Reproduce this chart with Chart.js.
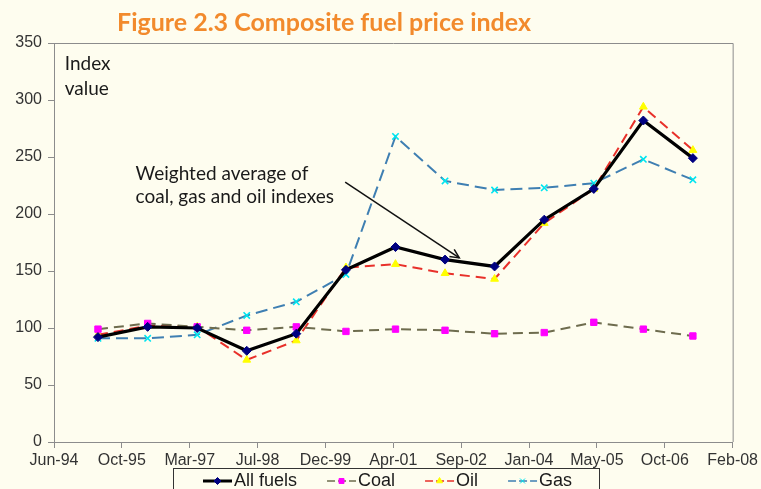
<!DOCTYPE html>
<html>
<head>
<meta charset="utf-8">
<script src="https://cdn.jsdelivr.net/npm/chart.js@4.4.0/dist/chart.umd.min.js"></script>
<style>
  html, body { margin: 0; padding: 0; background: #FEFDEF; }
  #wrap { width: 761px; height: 489px; position: relative; }
</style>
</head>
<body>
<div id="wrap"><canvas id="c" width="761" height="489"></canvas></div>
<script>
// ---- data ----
const axisStart = '1994-06-15';
const xTickLabels = ['Jun-94','Oct-95','Mar-97','Jul-98','Dec-99','Apr-01','Sep-02','Jan-04','May-05','Oct-06','Feb-08'];
const yTickLabels = ['0','50','100','150','200','250','300','350'];
const pointDates = ['1995-05-05','1996-05-05','1997-05-05','1998-05-05','1999-05-05','2000-05-05','2001-05-05','2002-05-05','2003-05-05','2004-05-05','2005-05-05','2006-05-05','2007-05-05'];
const seriesNames = ['All fuels','Coal','Oil','Gas'];
const allFuels = [92, 101, 100, 80, 95, 151, 171, 160, 154, 195, 222, 282, 249];
const coal     = [99, 104, 101, 98, 101, 97, 99, 98, 95, 96, 105, 99, 93];
const oil      = [94, 102, 101, 72, 89, 153, 156, 148, 143, 192, 222, 294, 256];
const gas      = [91, 91, 94, 111, 123, 147, 268, 229, 221, 223, 227, 248, 230];
const titleText = 'Figure 2.3 Composite fuel price index';
const yAxisNote = ['Index', 'value'];
const annotationText = ['Weighted average of', 'coal, gas and oil indexes'];

// ---- helpers ----
const DAY = 86400000;
function daysFromStart(s) {
  const a = s.split('-').map(Number), b = axisStart.split('-').map(Number);
  return (Date.UTC(a[0], a[1]-1, a[2]) - Date.UTC(b[0], b[1]-1, b[2])) / DAY;
}
const xs = pointDates.map(daysFromStart);
const toPts = arr => arr.map((v, i) => ({x: xs[i], y: v}));

const seriesStyles = [
  {line: '#000000', width: 3.2, dash: [], marker: 'rectRot', mfill: '#000080', mstroke: '#000080', r: 4.5},
  {line: '#6E6C4E', width: 2, dash: [10, 6], marker: 'rect', mfill: '#FF00FF', mstroke: '#FF00FF', r: 4.5},
  {line: '#E8302A', width: 2, dash: [10, 6], marker: 'triangle', mfill: '#FFFF00', mstroke: '#FFFF00', r: 4.5},
  {line: '#3F7FB2', width: 2, dash: [12, 6], marker: 'crossRot', mfill: '#00FFFF', mstroke: '#00E5F0', r: 4.5}
];
const seriesData = [allFuels, coal, oil, gas];

const datasets = seriesNames.map((n, i) => ({
  label: n,
  data: toPts(seriesData[i]),
  borderColor: seriesStyles[i].line,
  borderWidth: seriesStyles[i].width,
  borderDash: seriesStyles[i].dash,
  pointStyle: seriesStyles[i].marker,
  pointBackgroundColor: seriesStyles[i].mfill,
  pointBorderColor: seriesStyles[i].mstroke,
  pointBorderWidth: i === 3 ? 1.6 : 1,
  pointRadius: seriesStyles[i].r,
  tension: 0,
  fill: false
}));

// annotation positions in data coordinates (days, value)
const arrowFrom = {x: 2145, y: 228};
const arrowTo = {x: 2986, y: 161.5};
const noteAt = {x: 601, y: 235, y2: 214.6};
const indexAt = {x: 79, y: 332, y2: 310};

const decorPlugin = {
  id: 'decor',
  beforeDraw(chart) {
    const ctx = chart.ctx;
    ctx.save();
    ctx.fillStyle = '#FEFDEF';
    ctx.fillRect(0, 0, chart.width, chart.height);
    ctx.restore();
  },
  afterDraw(chart) {
    const ctx = chart.ctx, ca = chart.chartArea;
    const sx = chart.scales.x, sy = chart.scales.y;
    ctx.save();
    // plot box top & right
    ctx.strokeStyle = '#8C8C8C';
    ctx.lineWidth = 1;
    ctx.beginPath();
    ctx.moveTo(ca.left, ca.top + 0.5);
    ctx.lineTo(ca.right + 0.5, ca.top + 0.5);
    ctx.lineTo(ca.right + 0.5, ca.bottom);
    ctx.stroke();

    // title
    ctx.fillStyle = '#F28A2C';
    ctx.font = 'bold 25px Lato, "Open Sans", sans-serif';
    ctx.textAlign = 'center';
    ctx.textBaseline = 'middle';
    ctx.fillText(titleText, 324, 23);

    // y note
    ctx.fillStyle = '#1a1a1a';
    ctx.font = '19px Lato, "Open Sans", sans-serif';
    ctx.textAlign = 'left';
    ctx.fillText(yAxisNote[0], sx.getPixelForValue(indexAt.x), sy.getPixelForValue(indexAt.y));
    ctx.fillText(yAxisNote[1], sx.getPixelForValue(indexAt.x), sy.getPixelForValue(indexAt.y2));

    // annotation text
    ctx.fillText(annotationText[0], sx.getPixelForValue(noteAt.x), sy.getPixelForValue(noteAt.y));
    ctx.fillText(annotationText[1], sx.getPixelForValue(noteAt.x), sy.getPixelForValue(noteAt.y2));

    // arrow
    const x1 = sx.getPixelForValue(arrowFrom.x), y1 = sy.getPixelForValue(arrowFrom.y);
    const x2 = sx.getPixelForValue(arrowTo.x), y2 = sy.getPixelForValue(arrowTo.y);
    ctx.strokeStyle = '#111';
    ctx.lineWidth = 1.5;
    ctx.beginPath(); ctx.moveTo(x1, y1); ctx.lineTo(x2, y2); ctx.stroke();
    const ang = Math.atan2(y2 - y1, x2 - x1), L = 10, W = 0.45;
    ctx.beginPath();
    ctx.moveTo(x2 - L * Math.cos(ang - W), y2 - L * Math.sin(ang - W));
    ctx.lineTo(x2, y2);
    ctx.lineTo(x2 - L * Math.cos(ang + W), y2 - L * Math.sin(ang + W));
    ctx.stroke();

    // legend
    ctx.font = '18px "Liberation Sans", Arial, sans-serif';
    ctx.textBaseline = 'middle';
    const lineLen = 29, gapText = 2, gapItem = 30, padL = 30, padR = 27;
    const widths = chart.data.datasets.map(d => ctx.measureText(d.label).width);
    const total = widths.reduce((a, w) => a + lineLen + gapText + w, 0) + gapItem * (widths.length - 1);
    const startX = 203;
    const boxL = startX - padL, boxW = total + padL + padR, boxTop = 468.5;
    ctx.strokeStyle = '#333';
    ctx.lineWidth = 1;
    ctx.strokeRect(Math.round(boxL) + 0.5, boxTop, Math.round(boxW), 40);
    let x = startX;
    const ly = 481;
    chart.data.datasets.forEach((d, i) => {
      const st = seriesStyles[i];
      ctx.save();
      ctx.strokeStyle = st.line;
      ctx.lineWidth = i === 0 ? 3 : 1.6;
      ctx.setLineDash(i === 0 ? [] : [8, 3]);
      ctx.beginPath(); ctx.moveTo(x, ly); ctx.lineTo(x + lineLen, ly); ctx.stroke();
      ctx.restore();
      ctx.save();
      ctx.fillStyle = st.mfill; ctx.strokeStyle = st.mstroke;
      Chart.helpers.drawPoint(ctx, {
        pointStyle: st.marker, radius: 3.5, borderWidth: 1,
        rotation: 0
      }, x + lineLen / 2, ly);
      ctx.restore();
      ctx.fillStyle = '#1a1a1a';
      ctx.textAlign = 'left';
      ctx.fillText(d.label, x + lineLen + gapText, ly);
      x += lineLen + gapText + widths[i] + gapItem;
    });
    ctx.restore();
  }
};

new Chart(document.getElementById('c'), {
  type: 'line',
  data: { datasets },
  options: {
    responsive: false,
    animation: false,
    devicePixelRatio: 1,
    layout: { padding: { left: 0, top: 43, right: 27, bottom: 0 } },
    plugins: { legend: { display: false }, tooltip: { enabled: false }, title: { display: false } },
    scales: {
      x: {
        type: 'linear',
        min: 0, max: 5000,
        afterBuildTicks(scale) {
          scale.ticks = xTickLabels.map((_, i) => ({value: i * 500}));
        },
        ticks: {
          callback: (v, i) => xTickLabels[i],
          font: { family: '"Liberation Sans", Arial, sans-serif', size: 16 },
          color: '#333',
          padding: 3,
          maxRotation: 0,
          autoSkip: false
        },
        grid: { drawOnChartArea: false, tickLength: 6, color: '#8C8C8C' },
        border: { color: '#8C8C8C' },
        afterFit(scale) { scale.height = 47; }
      },
      y: {
        min: 0, max: 350,
        afterBuildTicks(scale) {
          scale.ticks = yTickLabels.map(t => ({value: Number(t)}));
        },
        ticks: {
          callback: (v, i) => yTickLabels[i],
          font: { family: '"Liberation Sans", Arial, sans-serif', size: 16 },
          color: '#333',
          padding: 6
        },
        grid: { drawOnChartArea: false, tickLength: 6, color: '#8C8C8C' },
        border: { color: '#8C8C8C' },
        afterFit(scale) { scale.width = 54; }
      }
    }
  },
  plugins: [decorPlugin]
});
</script>
</body>
</html>
